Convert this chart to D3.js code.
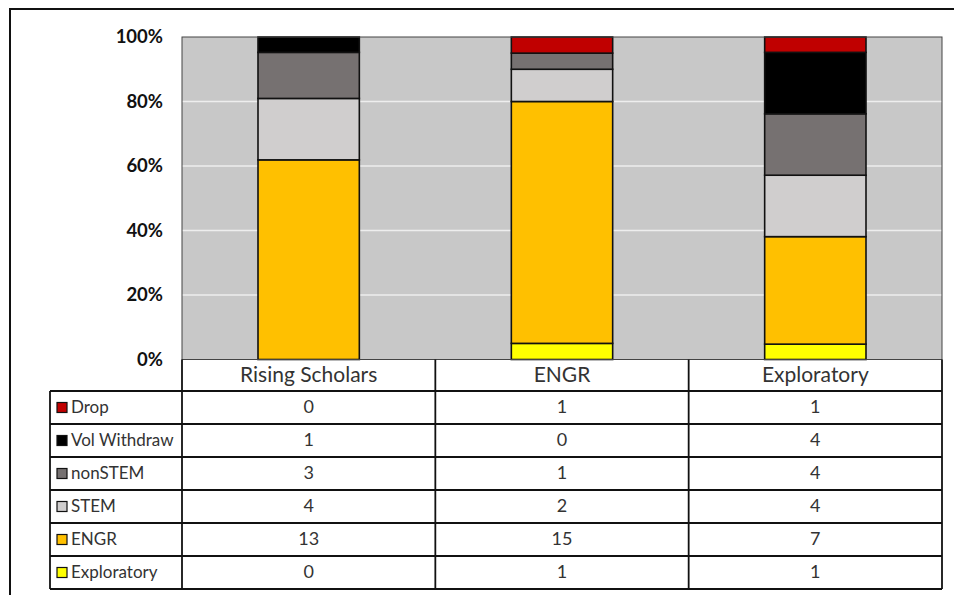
<!DOCTYPE html>
<html><head><meta charset="utf-8">
<script src="https://cdn.jsdelivr.net/npm/d3@7"></script>
<style>body{margin:0;background:#fff}svg{display:block}</style>
</head><body>
<script>
const categories = ["Rising Scholars", "ENGR", "Exploratory"];
const seriesNames = ["Drop", "Vol Withdraw", "nonSTEM", "STEM", "ENGR", "Exploratory"];
const drop = [0, 1, 1];
const volWithdraw = [1, 0, 4];
const nonSTEM = [3, 1, 4];
const stem = [4, 2, 4];
const engr = [13, 15, 7];
const exploratory = [0, 1, 1];
const colors = ["#c00000", "#000000", "#767171", "#d0cece", "#ffc000", "#ffff00"];
const yTicks = [0, 0.2, 0.4, 0.6, 0.8, 1.0];

const seriesValues = [drop, volWithdraw, nonSTEM, stem, engr, exploratory];
const W = 954, H = 595;
const svg = d3.select("body").append("svg").attr("width", W).attr("height", H);
const font = "Lato, 'Open Sans', sans-serif";

// outer frame
svg.append("rect").attr("x", 10).attr("y", 9).attr("width", 1000).attr("height", 700)
  .attr("fill", "none").attr("stroke", "#111").attr("stroke-width", 2);

const pLeft = 182, pRight = 942, pTop = 37, pBottom = 359.5;
const x = d3.scaleBand().domain(categories).range([pLeft, pRight]).paddingInner(0.6).paddingOuter(0.3);
const y = d3.scaleLinear().domain([0, 1]).range([pBottom, pTop]);

// plot background
svg.append("rect").attr("x", pLeft).attr("y", pTop).attr("width", pRight - pLeft).attr("height", pBottom - pTop)
  .attr("fill", "#c8c8c8");
// gridlines
svg.append("g").selectAll("line").data(yTicks.filter(t => t > 0 && t < 1)).join("line")
  .attr("x1", pLeft).attr("x2", pRight).attr("y1", d => y(d)).attr("y2", d => y(d))
  .attr("stroke", "#eeeeee").attr("stroke-width", 1.5);

// stacked data (bottom to top: Exploratory ... Drop)
const rows = categories.map((c, i) => {
  const o = { cat: c };
  seriesNames.forEach((s, j) => o[s] = seriesValues[j][i]);
  return o;
});
const stackOrder = seriesNames.slice().reverse();
const stack = d3.stack().keys(stackOrder).offset(d3.stackOffsetExpand);
const stacked = stack(rows);
svg.append("g").selectAll("g").data(stacked).join("g")
  .attr("fill", d => colors[seriesNames.indexOf(d.key)])
  .selectAll("rect").data(d => d).join("rect")
  .attr("x", d => x(d.data.cat)).attr("width", x.bandwidth())
  .attr("y", d => y(d[1])).attr("height", d => y(d[0]) - y(d[1]))
  .attr("stroke", d => (d[1] - d[0]) > 0 ? "#111" : "none").attr("stroke-width", 1.6);

// plot border
svg.append("rect").attr("x", pLeft).attr("y", pTop).attr("width", pRight - pLeft).attr("height", pBottom - pTop)
  .attr("fill", "none").attr("stroke", "#444").attr("stroke-width", 1);

// y axis
const yAxis = d3.axisLeft(y).tickValues(yTicks).tickFormat(d3.format(".0%")).tickSize(0).tickPadding(19);
const ga = svg.append("g").attr("transform", `translate(${pLeft},0)`).call(yAxis);
ga.select(".domain").remove();
ga.selectAll("text").attr("font-family", font).attr("font-size", 18.5).attr("font-weight", "bold").attr("fill", "#111");

// table
const rowTop = 391, rowH = 33, headTop = 359.5, tLeft = 50;
const step = x.step();
const colEdges = categories.map((c, i) => pLeft + i * step);
const tg = svg.append("g");
// header labels
tg.selectAll("text.h").data(categories).join("text")
  .attr("x", d => x(d) + x.bandwidth() / 2).attr("y", (headTop + rowTop) / 2 + 1)
  .attr("text-anchor", "middle").attr("dominant-baseline", "middle")
  .attr("font-family", font).attr("font-size", 21).attr("fill", "#333").text(d => d);
// row labels + swatches + values
seriesNames.forEach((s, j) => {
  const cy = rowTop + j * rowH + rowH / 2;
  tg.append("rect").attr("x", 57).attr("y", cy - 5).attr("width", 10).attr("height", 10)
    .attr("fill", colors[j]).attr("stroke", "#111").attr("stroke-width", 1.2);
  tg.append("text").attr("x", 71).attr("y", cy + 1).attr("dominant-baseline", "middle")
    .attr("font-family", font).attr("font-size", 17).attr("fill", "#333").text(s);
  categories.forEach((c, i) => {
    tg.append("text").attr("x", x(c) + x.bandwidth() / 2).attr("y", cy + 1)
      .attr("text-anchor", "middle").attr("dominant-baseline", "middle")
      .attr("font-family", font).attr("font-size", 18).attr("fill", "#333").text(seriesValues[j][i]);
  });
});
const tBottom = rowTop + seriesNames.length * rowH;
// horizontal lines
const hl = d3.range(seriesNames.length + 1).map(k => rowTop + k * rowH);
tg.selectAll("line.hr").data(hl).join("line")
  .attr("x1", tLeft).attr("x2", pRight).attr("y1", d => d).attr("y2", d => d)
  .attr("stroke", "#111").attr("stroke-width", 1.8);
// vertical lines
tg.append("line").attr("x1", tLeft).attr("x2", tLeft).attr("y1", rowTop).attr("y2", tBottom)
  .attr("stroke", "#111").attr("stroke-width", 1.8);
colEdges.concat([pRight]).forEach(xx => {
  tg.append("line").attr("x1", xx).attr("x2", xx).attr("y1", headTop).attr("y2", tBottom)
    .attr("stroke", "#111").attr("stroke-width", 1.8);
});
</script>
</body></html>
